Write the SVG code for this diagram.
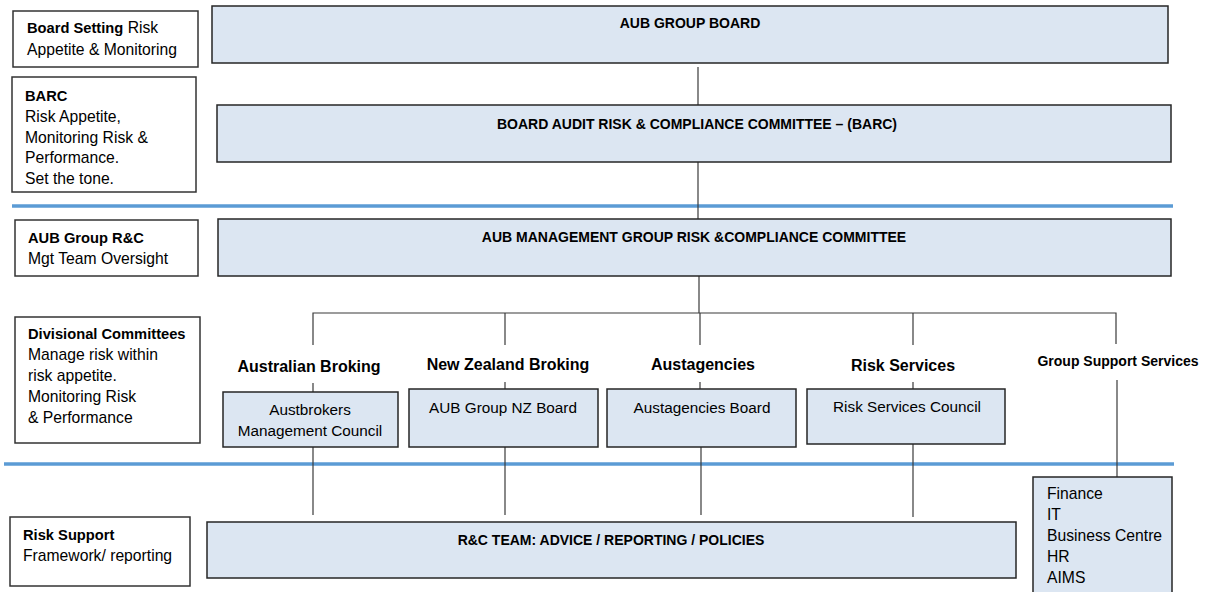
<svg xmlns="http://www.w3.org/2000/svg" width="1207" height="592" viewBox="0 0 1207 592">
<style>
.bg{fill:#ffffff}
.lbox{fill:#ffffff;stroke:#333333;stroke-width:1.5}
.bbox{fill:#dce6f2;stroke:#262626;stroke-width:1.5}
.conn{stroke:#3a3a3a;stroke-width:1.2;fill:none}
.sep{stroke:#5b9bd5;stroke-width:3.5}
text{font-family:"Liberation Sans",Arial,sans-serif;fill:#000000}
.b14{font-size:14px;font-weight:bold}
.bl{font-size:14.7px;font-weight:bold}
.b16{font-size:16px;font-weight:bold}
.r{font-size:15.7px}
.rc{font-size:15.3px;text-anchor:middle}
.mid{text-anchor:middle}
</style>
<rect class="bg" x="0" y="0" width="1207" height="592"/>

<g id="separators">
<line class="sep" x1="12" y1="206" x2="1173" y2="206"/>
<line class="sep" x1="4" y1="464" x2="1174" y2="464"/>
</g>

<g id="connectors">
<line class="conn" x1="698" y1="67" x2="698" y2="105"/>
<line class="conn" x1="698" y1="162" x2="698" y2="219"/>
<line class="conn" x1="699" y1="276" x2="699" y2="313"/>
<polyline class="conn" points="313,345 313,313 1116,313 1116,344"/>
<line class="conn" x1="505" y1="313" x2="505" y2="345"/>
<line class="conn" x1="700" y1="313" x2="700" y2="345"/>
<line class="conn" x1="913" y1="313" x2="913" y2="345"/>
<line class="conn" x1="313" y1="383" x2="313" y2="392"/>
<line class="conn" x1="505" y1="382" x2="505" y2="389"/>
<line class="conn" x1="700" y1="382" x2="700" y2="389"/>
<line class="conn" x1="913" y1="382" x2="913" y2="389"/>
<line class="conn" x1="1117" y1="380" x2="1117" y2="477"/>
<line class="conn" x1="313" y1="447" x2="313" y2="515"/>
<line class="conn" x1="505" y1="447" x2="505" y2="515"/>
<line class="conn" x1="701" y1="447" x2="701" y2="515"/>
<line class="conn" x1="913" y1="444" x2="913" y2="517"/>
</g>

<g id="legend-board">
<rect class="lbox" x="13" y="11" width="185" height="56"/>
<text x="27" y="33"><tspan class="bl">Board Setting</tspan><tspan class="r"> Risk</tspan></text>
<text class="r" x="27" y="55">Appetite &amp; Monitoring</text>
</g>

<g id="legend-barc">
<rect class="lbox" x="12" y="77" width="184" height="115"/>
<text class="bl" x="25" y="101">BARC</text>
<text class="r" x="25" y="122">Risk Appetite,</text>
<text class="r" x="25" y="143">Monitoring Risk &amp;</text>
<text class="r" x="25" y="163">Performance.</text>
<text class="r" x="25" y="184">Set the tone.</text>
</g>

<g id="legend-rc">
<rect class="lbox" x="15" y="220" width="183" height="56"/>
<text class="bl" x="28" y="243">AUB Group R&amp;C</text>
<text class="r" x="28" y="264">Mgt Team Oversight</text>
</g>

<g id="legend-divisional">
<rect class="lbox" x="15" y="317" width="185" height="126"/>
<text class="bl" x="28" y="339">Divisional Committees</text>
<text class="r" x="28" y="360">Manage risk within</text>
<text class="r" x="28" y="381">risk appetite.</text>
<text class="r" x="28" y="402">Monitoring Risk</text>
<text class="r" x="28" y="423">&amp; Performance</text>
</g>

<g id="legend-risk-support">
<rect class="lbox" x="10" y="517" width="180" height="69"/>
<text class="bl" x="23" y="540">Risk Support</text>
<text class="r" x="23" y="561">Framework/ reporting</text>
</g>

<g id="aub-group-board">
<rect class="bbox" x="212" y="6" width="956" height="57"/>
<text class="b14 mid" x="690" y="28">AUB GROUP BOARD</text>
</g>

<g id="barc">
<rect class="bbox" x="217" y="105" width="954" height="57"/>
<text class="b14 mid" x="697" y="129">BOARD AUDIT RISK &amp; COMPLIANCE COMMITTEE – (BARC)</text>
</g>

<g id="mgmt-rc">
<rect class="bbox" x="218" y="219" width="953" height="57"/>
<text class="b14 mid" x="694" y="242">AUB MANAGEMENT GROUP RISK &amp;COMPLIANCE COMMITTEE</text>
</g>

<g id="label-australian">
<text class="b16 mid" x="309" y="372">Australian Broking</text>
</g>
<g id="label-nz">
<text class="b16 mid" x="508" y="370">New Zealand Broking</text>
</g>
<g id="label-austagencies">
<text class="b16 mid" x="703" y="370">Austagencies</text>
</g>
<g id="label-risk-services">
<text class="b16 mid" x="903" y="371">Risk Services</text>
</g>
<g id="label-group-support">
<text class="b14 mid" x="1118" y="366">Group Support Services</text>
</g>

<g id="austbrokers">
<rect class="bbox" x="223" y="392" width="175" height="55"/>
<text class="rc" x="310" y="415">Austbrokers</text>
<text class="rc" x="310" y="436">Management Council</text>
</g>

<g id="nz-board">
<rect class="bbox" x="409" y="389" width="189" height="58"/>
<text class="rc" x="503" y="413">AUB Group NZ Board</text>
</g>

<g id="austagencies-board">
<rect class="bbox" x="607" y="389" width="189" height="58"/>
<text class="rc" x="702" y="413">Austagencies Board</text>
</g>

<g id="risk-services-council">
<rect class="bbox" x="807" y="389" width="198" height="55"/>
<text class="rc" x="907" y="412">Risk Services Council</text>
</g>

<g id="rc-team">
<rect class="bbox" x="207" y="522" width="809" height="56"/>
<text class="b14 mid" x="611" y="545">R&amp;C TEAM: ADVICE / REPORTING / POLICIES</text>
</g>

<g id="group-support">
<rect class="bbox" x="1033" y="477" width="139" height="130"/>
<text class="r" x="1047" y="499">Finance</text>
<text class="r" x="1047" y="520">IT</text>
<text class="r" x="1047" y="541">Business Centre</text>
<text class="r" x="1047" y="562">HR</text>
<text class="r" x="1047" y="583">AIMS</text>
</g>
</svg>
